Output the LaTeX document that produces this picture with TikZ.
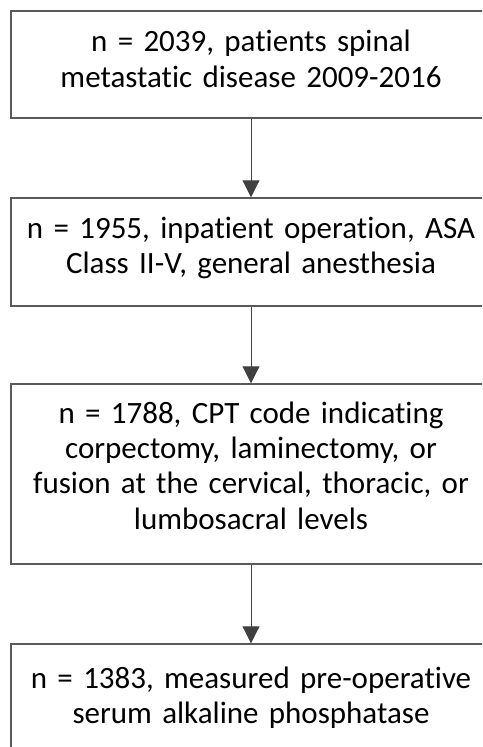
\documentclass[tikz,border=0pt]{standalone}
\usepackage{fontspec}
\setmainfont[Ligatures={NoCommon}]{Carlito}
\usetikzlibrary{arrows.meta}
\definecolor{boxline}{HTML}{5A5A5A}
\definecolor{arrline}{HTML}{404040}
\tikzset{
  box/.style={draw=boxline, line width=1.4pt, minimum width=480pt, inner sep=0pt},
  boxtext/.style={text width=470pt, align=center, inner sep=0pt, anchor=base, font=\fontsize{31}{35.3}\selectfont},
  conn/.style={draw=arrline, line width=0.9pt, -{Triangle[length=17pt,width=17pt]}}
}
\begin{document}
\begin{tikzpicture}[x=1pt,y=-1pt]
\useasboundingbox (0,0) rectangle (482,747);
\clip (0,0) rectangle (482,747);
\node[box, minimum height=107pt] (b1) at (251,64.5) {};
\node[box, minimum height=108pt] (b2) at (251,252) {};
\node[box, minimum height=180pt] (b3) at (251,474) {};
\node[box, minimum height=114pt] (b4) at (251,701) {};
\node[boxtext] (t1) at (251,51.7) {n = 2039, patients spinal\\metastatic disease 2009-2016};
\node[boxtext] (t2) at (251,238.3) {n = 1955, inpatient operation, ASA\\Class II-V, general anesthesia};
\node[boxtext] (t3) at (251,423.3) {n = 1788, CPT code indicating\\corpectomy, laminectomy, or\\fusion at the cervical, thoracic, or\\lumbosacral levels};
\node[boxtext] (t4) at (251,688.5) {n = 1383, measured pre-operative\\serum alkaline phosphatase};
\draw[conn] (b1.south) -- (b2.north);
\draw[conn] (b2.south) -- (b3.north);
\draw[conn] (b3.south) -- (b4.north);
\end{tikzpicture}
\end{document}
